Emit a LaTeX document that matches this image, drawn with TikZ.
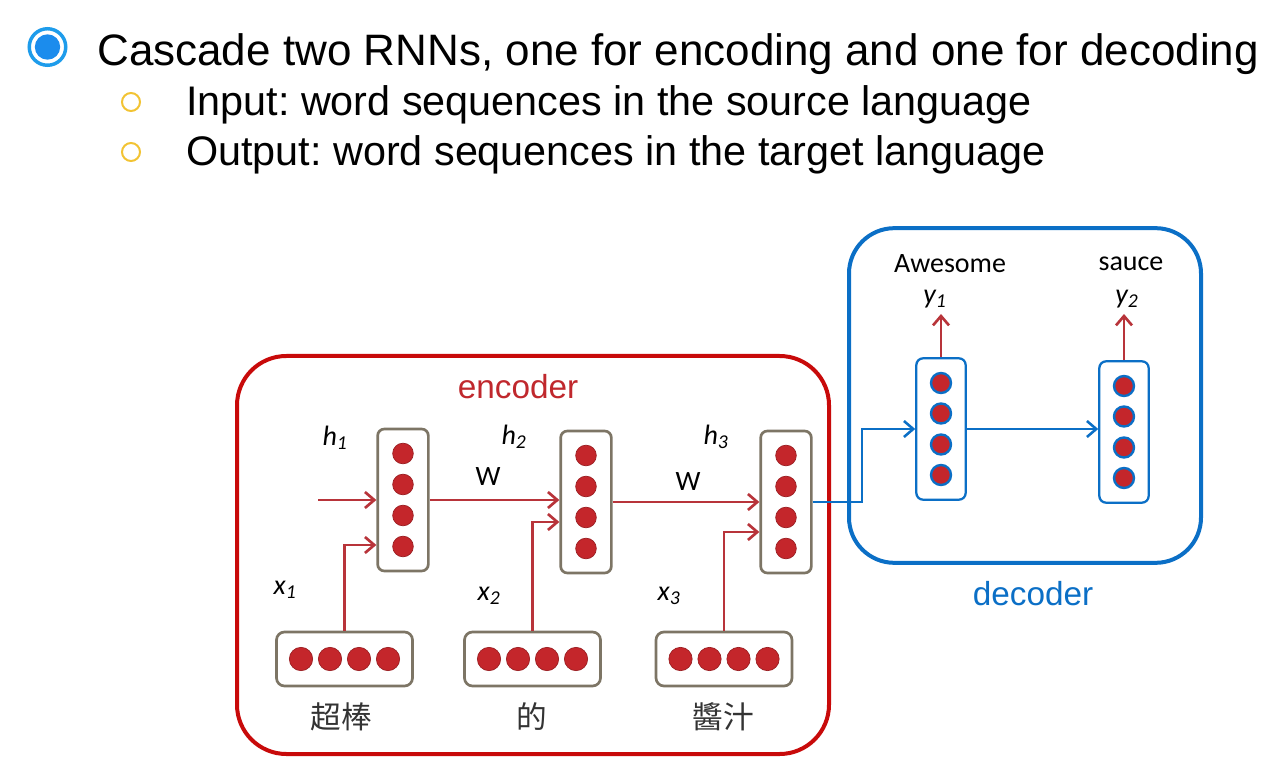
\documentclass[tikz,border=0pt]{standalone}
\usepackage{fontspec}
\setmainfont{Liberation Sans}
\newfontfamily\calfont{Carlito}
\newfontfamily\cjkfont{Noto Sans CJK TC}
\usetikzlibrary{arrows.meta,calc}
\definecolor{encred}{HTML}{C80A0A}
\definecolor{enctext}{HTML}{C0282D}
\definecolor{arrred}{HTML}{B8343A}
\definecolor{dotred}{HTML}{C4262B}
\definecolor{dotstroke}{HTML}{9A1E22}
\definecolor{boxgray}{HTML}{7D7565}
\definecolor{decblue}{HTML}{0B6FC6}
\definecolor{bulletblue}{HTML}{1E9CEB}
\definecolor{bulletyellow}{HTML}{F2C333}
\frenchspacing
\begin{document}
\begin{tikzpicture}[x=0.75pt,y=-0.75pt,
  hbox/.style={draw=boxgray, line width=2pt, fill=white, rounded corners=5pt, minimum width=38pt, minimum height=106.5pt, inner sep=0pt},
  xbox/.style={draw=boxgray, line width=2pt, fill=white, rounded corners=6pt, minimum width=102pt, minimum height=40.5pt, inner sep=0pt},
  dbox/.style={draw=decblue, line width=1.7pt, fill=white, rounded corners=5pt, minimum width=37pt, minimum height=106pt, inner sep=0pt},
  rdot/.style={circle, fill=dotred, draw=dotstroke, line width=0.5pt, minimum size=15.5pt, inner sep=0pt},
  xdot/.style={circle, fill=dotred, draw=dotstroke, line width=0.5pt, minimum size=17.5pt, inner sep=0pt},
  bdot/.style={circle, fill=dotred, draw=decblue, line width=1.8pt, minimum size=15pt, inner sep=0pt},
  rarrow/.style={draw=arrred, line width=2.1pt, -{Straight Barb[length=7pt,width=12pt,line width=2pt]}},
  barrow/.style={draw=decblue, line width=1.9pt, -{Straight Barb[length=7pt,width=12pt,line width=1.9pt]}},
  lab/.style={font=\calfont\fontsize{21}{24}\selectfont, inner sep=1pt},
  cjk/.style={font=\cjkfont\fontsize{23}{26}\selectfont, text=black!80, inner sep=0pt},
  big/.style={font=\fontsize{25}{28}\selectfont, inner sep=0pt}
]
\useasboundingbox (0,0) rectangle (1278,780);

% bullets and text
\node[circle, draw=bulletblue, line width=2.6pt, fill=white, minimum size=27.4pt, inner sep=0pt] (b0) at (47.5,47) {};
\node[circle, fill=bulletblue!90!blue, minimum size=19pt, inner sep=0pt] (b0i) at (b0) {};
\node[anchor=base west, inner sep=0pt, font=\fontsize{33}{38}\selectfont] (t0) at (97,66) {Cascade two RNNs, one for encoding and one for decoding};
\node[circle, draw=bulletyellow, line width=1.5pt, minimum size=13.5pt, inner sep=0pt] (b1) at (131,102) {};
\node[anchor=base west, inner sep=0pt, font=\fontsize{31}{35}\selectfont] (t1) at (186,116) {Input: word sequences in the source language};
\node[circle, draw=bulletyellow, line width=1.5pt, minimum size=13.5pt, inner sep=0pt] (b2) at (131,152) {};
\node[anchor=base west, inner sep=0pt, font=\fontsize{31}{35}\selectfont] (t2) at (186,166) {Output: word sequences in the target language};

% big boxes
\node[draw=encred, line width=3pt, rounded corners=37pt, minimum width=444pt, minimum height=298.5pt, inner sep=0pt] (enc) at (533,555) {};
\node[draw=decblue, line width=3pt, rounded corners=34pt, minimum width=264pt, minimum height=251pt, inner sep=0pt] (dec) at (1025,395.5) {};
\node[big, text=enctext] (enclab) at (518,387) {encoder};
\node[big, text=decblue] (declab) at (1033,594) {decoder};

% encoder hidden boxes
\node[hbox] (hb1) at (403,500) {};
\node[hbox] (hb2) at (586,502) {};
\node[hbox] (hb3) at (786,502) {};
\foreach \b in {hb1,hb2,hb3}{
  \foreach \i/\dy in {1/-46.5,2/-15.5,3/15.5,4/46.5}
    \node[rdot] (\b d\i) at ($(\b)+(0,\dy)$) {};
}
% input boxes
\node[xbox] (xb1) at (344.5,659) {};
\node[xbox] (xb2) at (532.5,659) {};
\node[xbox] (xb3) at (724,659) {};
\foreach \b in {xb1,xb2,xb3}{
  \foreach \i/\dx in {1/-43.5,2/-14.5,3/14.5,4/43.5}
    \node[xdot] (\b d\i) at ($(\b)+(\dx,0)$) {};
}
% decoder boxes
\node[dbox] (db1) at (941,429) {};
\node[dbox] (db2) at (1124,432) {};
\foreach \b in {db1,db2}{
  \foreach \i/\dy in {1/-46,2/-15.5,3/15.5,4/46}
    \node[bdot] (\b d\i) at ($(\b)+(0,\dy)$) {};
}

% labels
\node[lab] (h1) at (335,438) {\itshape h\textsubscript{1}};
\node[lab] (h2) at (514,437) {\itshape h\textsubscript{2}};
\node[lab] (h3) at (716,437) {\itshape h\textsubscript{3}};
\node[lab] (x1) at (285,590) {\itshape x\textsubscript{1}};
\node[lab] (x2) at (489,596) {\itshape x\textsubscript{2}};
\node[lab] (x3) at (669,596) {\itshape x\textsubscript{3}};
\node[lab] (w1) at (488,477) {W};
\node[lab] (w2) at (688,482) {W};
\node[lab] (y1) at (935,299) {\itshape y\textsubscript{1}};
\node[lab] (y2) at (1127,299) {\itshape y\textsubscript{2}};
\node[lab] (aw) at (950,264) {Awesome};
\node[lab] (sa) at (1131,264) {sauce};
\node[cjk] (c1) at (341,717) {超棒};
\node[cjk] (c2) at (532,717) {的};
\node[cjk] (c3) at (723,717) {醬汁};

% encoder connectors
\coordinate (h0) at (318,500);
\draw[rarrow] (h0) -- (hb1.west |- h0);
\draw[rarrow] (hb1.east) -- (hb2.west |- hb1.east);
\draw[rarrow] (hb2.east) -- (hb3.west |- hb2.east);
\draw[rarrow] (xb1.north) |- ([yshift=-33.75pt]hb1.west);
\draw[rarrow] (xb2.north) |- ([yshift=-15pt]hb2.west);
\draw[rarrow] (xb3.north) |- ([yshift=-22.5pt]hb3.west);

% encoder to decoder
\coordinate (bend) at (862,502);
\draw[barrow] (hb3.east) -- (bend) |- (db1.west);
\draw[barrow] (db1.east) -- (db2.west |- db1.east);

% outputs
\coordinate (y1t) at (941,314);
\coordinate (y2t) at (1124,314);
\draw[rarrow] (db1.north) -- (y1t);
\draw[rarrow] (db2.north) -- (y2t);
\end{tikzpicture}
\end{document}
